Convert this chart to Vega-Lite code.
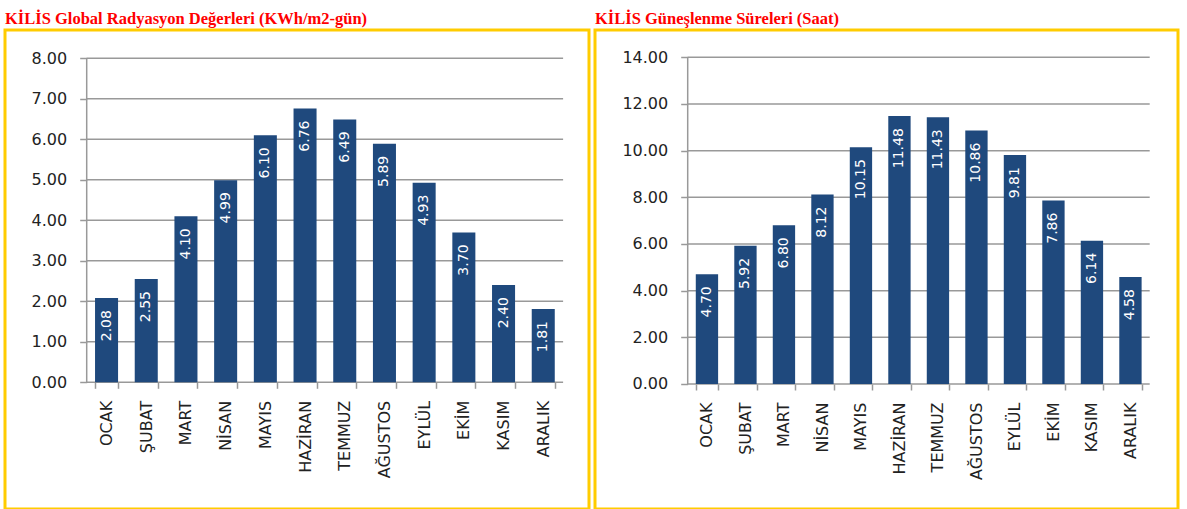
{
  "$schema": "https://vega.github.io/schema/vega-lite/v6.json",
  "autosize": {"type": "pad"},
  "padding": {"left": -5, "top": 9, "right": 0, "bottom": 0},
  "background": "white",
  "spacing": 6,
  "bounds": "flush",
  "datasets": {
    "rad": [
      {"ay": "OCAK", "deger": 2.08}, {"ay": "ŞUBAT", "deger": 2.55}, {"ay": "MART", "deger": 4.10},
      {"ay": "NİSAN", "deger": 4.99}, {"ay": "MAYIS", "deger": 6.10}, {"ay": "HAZİRAN", "deger": 6.76},
      {"ay": "TEMMUZ", "deger": 6.49}, {"ay": "AĞUSTOS", "deger": 5.89}, {"ay": "EYLÜL", "deger": 4.93},
      {"ay": "EKİM", "deger": 3.70}, {"ay": "KASIM", "deger": 2.40}, {"ay": "ARALIK", "deger": 1.81}
    ],
    "gun": [
      {"ay": "OCAK", "deger": 4.70}, {"ay": "ŞUBAT", "deger": 5.92}, {"ay": "MART", "deger": 6.80},
      {"ay": "NİSAN", "deger": 8.12}, {"ay": "MAYIS", "deger": 10.15}, {"ay": "HAZİRAN", "deger": 11.48},
      {"ay": "TEMMUZ", "deger": 11.43}, {"ay": "AĞUSTOS", "deger": 10.86}, {"ay": "EYLÜL", "deger": 9.81},
      {"ay": "EKİM", "deger": 7.86}, {"ay": "KASIM", "deger": 6.14}, {"ay": "ARALIK", "deger": 4.58}
    ],
    "gridL": [{"v": 0}, {"v": 1}, {"v": 2}, {"v": 3}, {"v": 4}, {"v": 5}, {"v": 6}, {"v": 7}, {"v": 8}],
    "gridR": [{"v": 0}, {"v": 2}, {"v": 4}, {"v": 6}, {"v": 8}, {"v": 10}, {"v": 12}, {"v": 14}]
  },
  "config": {
    "view": {"stroke": "#ffcc00", "strokeWidth": 3},
    "title": {"font": "Liberation Serif", "fontSize": 16.5, "fontWeight": "bold", "color": "#ff0000", "anchor": "start", "frame": "group", "offset": 3, "baseline": "alphabetic"},
    "axis": {"labelFont": "DejaVu Sans", "labelFontSize": 16, "labelColor": "#222222", "tickColor": "#999999", "tickWidth": 1.5, "domain": false, "grid": false, "title": null}
  },
  "hconcat": [
    {
      "width": 584,
      "height": 479,
      "title": {"text": "KİLİS Global Radyasyon Değerleri (KWh/m2-gün)"},
      "layer": [
        {
          "data": {"name": "gridL"},
          "mark": {"type": "rule", "color": "#999999", "strokeWidth": 1.5},
          "encoding": {
            "y": {"field": "v", "type": "quantitative"},
            "x": {"datum": "OCAK", "type": "nominal", "bandPosition": -0.362},
            "x2": {"datum": "ARALIK", "bandPosition": 1.362}
          }
        },
        {
          "data": {"values": [{}]},
          "mark": {"type": "rule", "color": "#999999", "strokeWidth": 1.5},
          "encoding": {
            "x": {"datum": "OCAK", "type": "nominal", "bandPosition": -0.362},
            "y": {"datum": 0, "type": "quantitative"},
            "y2": {"datum": 8}
          }
        },
        {
          "data": {"name": "rad"},
          "mark": {"type": "bar", "color": "#1f497d"},
          "encoding": {
            "x": {
              "field": "ay", "type": "nominal", "sort": null,
              "scale": {"domain": ["OCAK", "ŞUBAT", "MART", "NİSAN", "MAYIS", "HAZİRAN", "TEMMUZ", "AĞUSTOS", "EYLÜL", "EKİM", "KASIM", "ARALIK"], "range": [81.7, 558.1], "paddingInner": 0.42, "paddingOuter": 0.21},
              "axis": {"orient": "bottom", "offset": -126.7, "labelAngle": -90, "tickBand": "extent", "tickSize": 6, "labelPadding": 12}
            },
            "y": {
              "field": "deger", "type": "quantitative",
              "scale": {"domain": [-3.128, 8.699], "nice": false, "zero": false},
              "axis": {"values": [0, 1, 2, 3, 4, 5, 6, 7, 8], "format": ".2f", "offset": -81.7, "tickSize": 7, "labelPadding": 13}
            }
          }
        },
        {
          "data": {"name": "rad"},
          "mark": {"type": "text", "angle": 270, "align": "right", "baseline": "middle", "dx": -12, "color": "white", "font": "DejaVu Sans", "fontSize": 14},
          "encoding": {
            "x": {"field": "ay", "type": "nominal", "sort": null},
            "y": {"field": "deger", "type": "quantitative"},
            "text": {"field": "deger", "type": "quantitative", "format": ".2f"}
          }
        }
      ]
    },
    {
      "width": 583,
      "height": 479,
      "title": {"text": "KİLİS Güneşlenme Süreleri (Saat)"},
      "layer": [
        {
          "data": {"name": "gridR"},
          "mark": {"type": "rule", "color": "#999999", "strokeWidth": 1.5},
          "encoding": {
            "y": {"field": "v", "type": "quantitative"},
            "x": {"datum": "OCAK", "type": "nominal", "bandPosition": -0.362},
            "x2": {"datum": "ARALIK", "bandPosition": 1.362}
          }
        },
        {
          "data": {"values": [{}]},
          "mark": {"type": "rule", "color": "#999999", "strokeWidth": 1.5},
          "encoding": {
            "x": {"datum": "OCAK", "type": "nominal", "bandPosition": -0.362},
            "y": {"datum": 0, "type": "quantitative"},
            "y2": {"datum": 14}
          }
        },
        {
          "data": {"name": "gun"},
          "mark": {"type": "bar", "color": "#1f497d"},
          "encoding": {
            "x": {
              "field": "ay", "type": "nominal", "sort": null,
              "scale": {"domain": ["OCAK", "ŞUBAT", "MART", "NİSAN", "MAYIS", "HAZİRAN", "TEMMUZ", "AĞUSTOS", "EYLÜL", "EKİM", "KASIM", "ARALIK"], "range": [92.7, 554.7], "paddingInner": 0.42, "paddingOuter": 0.21},
              "axis": {"orient": "bottom", "offset": -125, "labelAngle": -90, "tickBand": "extent", "tickSize": 6, "labelPadding": 12}
            },
            "y": {
              "field": "deger", "type": "quantitative",
              "scale": {"domain": [-5.358, 15.17], "nice": false, "zero": false},
              "axis": {"values": [0, 2, 4, 6, 8, 10, 12, 14], "format": ".2f", "offset": -92.7, "tickSize": 7, "labelPadding": 13}
            }
          }
        },
        {
          "data": {"name": "gun"},
          "mark": {"type": "text", "angle": 270, "align": "right", "baseline": "middle", "dx": -12, "color": "white", "font": "DejaVu Sans", "fontSize": 14},
          "encoding": {
            "x": {"field": "ay", "type": "nominal", "sort": null},
            "y": {"field": "deger", "type": "quantitative"},
            "text": {"field": "deger", "type": "quantitative", "format": ".2f"}
          }
        }
      ]
    }
  ]
}
